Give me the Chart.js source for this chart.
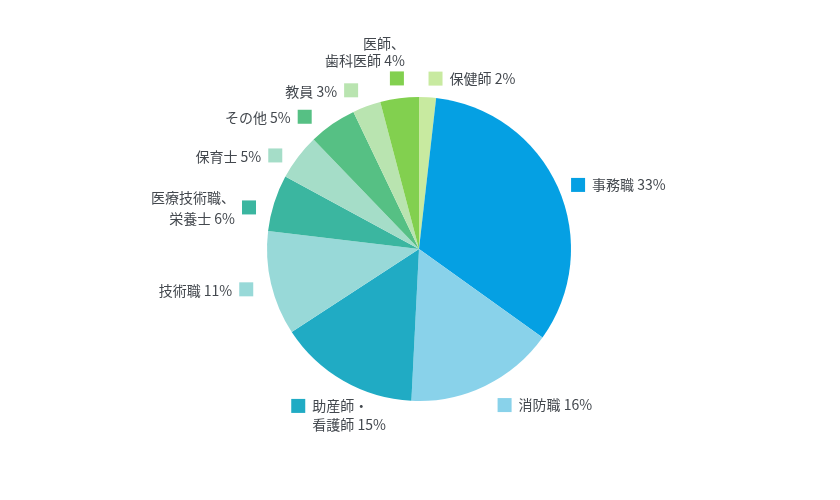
<!DOCTYPE html>
<html lang="ja">
<head>
<meta charset="utf-8">
<title>職種別構成</title>
<script src="https://cdn.jsdelivr.net/npm/chart.js@4/dist/chart.umd.min.js"></script>
<style>
  html,body{margin:0;padding:0;background:#fff;}
  #wrap{width:840px;height:500px;}
</style>
</head>
<body>
<div id="wrap"><canvas id="pieChart" width="840" height="500"></canvas></div>
<script>
// data, clockwise from 12 o'clock
const categories = ['保健師','事務職','消防職','助産師・\n看護師','技術職','医療技術職、\n栄養士','保育士','その他','教員','医師、\n歯科医師'];
const shares = [1.8,33.1,15.9,15.0,11.1,6.0,4.9,5.1,3.0,4.1];
const sliceColors = ['#c8eaa0','#05a0e3','#89d2ea','#20abc4','#98d9d8','#3bb6a0','#a5ddc8','#56c084','#b9e4b0','#82d04f'];

// label layout: angle nudge (deg), distance past the rim (px), side of the text
const labelNudge = [2.3,2.0,-3.0,7.7,0,-3.9,-4.2,-6.1,-3.0,0];
const labelGap = [19.2,19.5,26,46,25.4,23,19.5,22.8,20.6,20];
const labelSide = ['right','right','right','right','left','left','left','left','left','above'];

(function(){
  const ctx = document.getElementById('pieChart').getContext('2d');
  const FONT = '14px "Noto Sans CJK JP", "Noto Sans", sans-serif';
  const TEXT = '#43484e';
  const BOX = 14;

  // outside labels with a colour square, placed from each arc's own geometry
  const outsideLabels = {
    id:'outsideLabels',
    afterDatasetsDraw(chart){
      const c = chart.ctx;
      const arcs = chart.getDatasetMeta(0).data;
      c.save();
      c.font = FONT;
      c.textBaseline = 'middle';
      arcs.forEach((arc,i)=>{
        const p = arc.getProps(['x','y','startAngle','endAngle','outerRadius'], true);
        const mid = (p.startAngle + p.endAngle)/2 + labelNudge[i]*Math.PI/180;
        const r = p.outerRadius + labelGap[i];
        const bx = p.x + Math.cos(mid)*r;
        const by = p.y + Math.sin(mid)*r;
        c.fillStyle = sliceColors[i];
        c.fillRect(bx - BOX/2, by - BOX/2, BOX, BOX);

        const lines = (categories[i] + ' ' + Math.round(shares[i]) + '%').split('\n');
        c.fillStyle = TEXT;
        if(labelSide[i] === 'right'){
          c.textAlign = 'left';
          lines.forEach((ln,k)=> c.fillText(ln, bx + BOX/2 + 7, by + k*19));
        } else if(labelSide[i] === 'left'){
          c.textAlign = 'right';
          const lh = 21, top = by - (lines.length-1)*lh/2 + 1;
          lines.forEach((ln,k)=> c.fillText(ln, bx - BOX/2 - 7, top + k*lh));
        } else {
          // above the square, right aligned to its edge
          c.textAlign = 'right';
          const lh = 17, last = by - BOX/2 - 11;
          lines.forEach((ln,k)=> c.fillText(ln, bx + BOX/2 + 1, last - (lines.length-1-k)*lh));
        }
      });
      c.restore();
    }
  };

  new Chart(ctx, {
    type:'pie',
    data:{
      labels: categories.map(s => s.replace('\n','')),
      datasets:[{ data: shares, backgroundColor: sliceColors, borderWidth:0 }]
    },
    options:{
      responsive:false,
      animation:false,
      layout:{ padding:{ top:97, bottom:99, left:0, right:2 } },
      plugins:{ legend:{display:false}, tooltip:{enabled:false} }
    },
    plugins:[outsideLabels]
  });
})();
</script>
</body>
</html>
